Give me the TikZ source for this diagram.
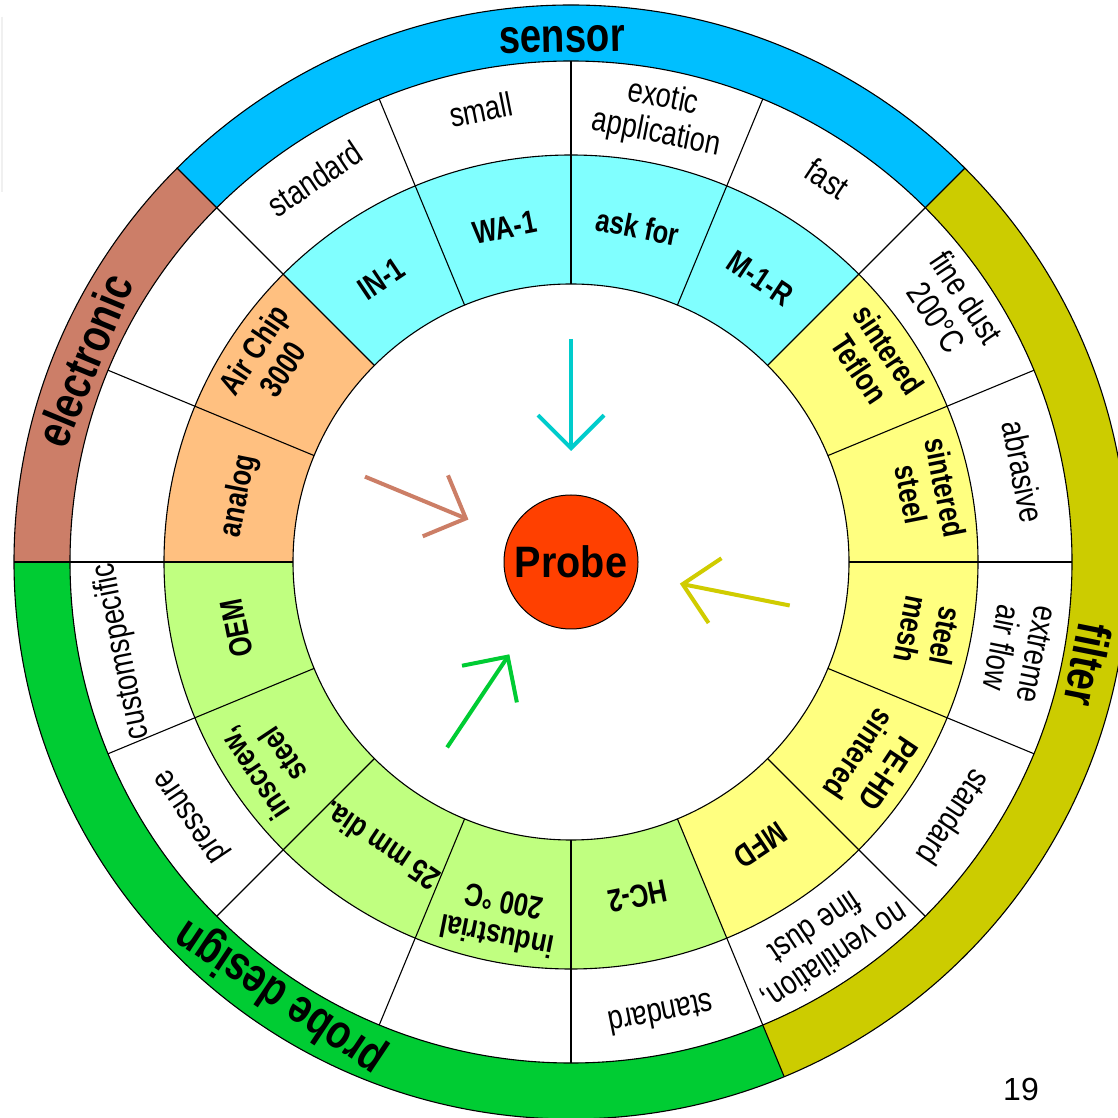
\documentclass[tikz,border=0pt]{standalone}
\usepackage{fontspec}
\usepackage{graphicx}
\setmainfont{Liberation Sans}
\usetikzlibrary{arrows.meta}
\definecolor{sensorc}{RGB}{0,191,255}
\definecolor{electc}{RGB}{204,126,104}
\definecolor{filterc}{RGB}{204,204,0}
\definecolor{probec}{RGB}{0,204,51}
\definecolor{cyanl}{RGB}{128,255,255}
\definecolor{yell}{RGB}{255,255,128}
\definecolor{greenl}{RGB}{192,255,128}
\definecolor{orangel}{RGB}{255,192,128}
\definecolor{corec}{RGB}{255,64,0}
\definecolor{arrcyan}{RGB}{0,204,204}
\definecolor{arrsalmon}{RGB}{204,126,102}
\definecolor{arrolive}{RGB}{208,204,0}
\newcommand{\sqone}[1]{\scalebox{0.8}[1]{#1}}
\newcommand{\sqtwo}[1]{\scalebox{0.8}[1]{\begin{tabular}{@{}c@{}}#1\end{tabular}}}
\begin{document}
\begin{tikzpicture}[x=1pt,y=1pt,
  ringline/.style={draw=black,line width=1.1pt},
  bandlabel/.style={font=\bfseries\fontsize{48}{50}\selectfont, inner sep=0pt, anchor=base},
  inlabel/.style={font=\bfseries\fontsize{32}{35}\selectfont, inner sep=0pt},
  midlabel/.style={font=\fontsize{34}{36}\selectfont, inner sep=0pt},
  ptr/.style={line width=4pt, -{Straight Barb[length=33pt,width=66pt]}},
]
\useasboundingbox (0,0) rectangle (1118,1117);
\fill[white] (0,0) rectangle (1118,1117);
\clip (0,0) rectangle (1118,1117);
\draw[gray!12, line width=1.5pt] (2,1100) -- (2,925);
\node[font=\fontsize{32}{34}\selectfont, inner sep=0pt] (pagenum) at (1021,28) {19};
\begin{scope}[shift={(571,555)}]
% outer bands
\foreach \a/\b/\c in {45/135/sensorc,135/180/electc,180/292.5/probec,-67.5/45/filterc}{
  \fill[\c] (\a:501) arc[start angle=\a,end angle=\b,radius=501] -- (\b:557)
     arc[start angle=\b,end angle=\a,radius=557] -- cycle;
}
% inner sectors
\foreach \i/\c in {0/yell,1/yell,2/cyanl,3/cyanl,4/cyanl,5/cyanl,6/orangel,7/orangel,
   8/greenl,9/greenl,10/greenl,11/greenl,12/greenl,13/yell,14/yell,15/yell}{
  \pgfmathsetmacro\a{22.5*\i}
  \pgfmathsetmacro\b{22.5*\i+22.5}
  \fill[\c] (\a:278) arc[start angle=\a,end angle=\b,radius=278] -- (\b:407)
     arc[start angle=\b,end angle=\a,radius=407] -- cycle;
}
% radial lines
\foreach \i in {0,...,15}{
  \pgfmathsetmacro\a{22.5*\i}
  \draw[ringline] (\a:278) -- (\a:501);
}
\foreach \a in {45,135,180,-67.5}{
  \draw[ringline] (\a:501) -- (\a:557);
}
\foreach \r in {278,407,501,557}{
  \draw[ringline] (0,0) circle[radius=\r];
}
% band labels
\foreach \a/\t/\n in {91/sensor/bs,157.5/electronic/be,-123.75/probe design/bp,-11.25/filter/bf}{
  \node[bandlabel, rotate=\a-90] (\n) at (\a:510) {\sqone{\t}};
}
% inner ring labels, single line
\foreach \i/\t in {2/M-1-R,3/ask for,4/WA-1,5/IN-1,7/analog,8/OEM,10/25 mm dia.,12/HC-2,13/MFD}{
  \pgfmathsetmacro\a{22.5*\i+11.25}
  \node[inlabel, anchor=base, rotate=\a-90] (in\i) at (\a:330) {\sqone{\t}};
}
% inner ring labels, two lines
\foreach \i/\t in {0/{sintered\\steel},1/{sintered\\Teflon},6/{Air Chip\\3000},
   9/{inscrew,\\steel},11/{industrial\\200 °C},14/{PE-HD\\sintered},15/{steel\\mesh}}{
  \pgfmathsetmacro\a{22.5*\i+11.25}
  \node[inlabel, rotate=\a-90] (in\i) at (\a:360) {\sqtwo{\t}};
}
% middle ring labels, single line
\foreach \i/\t in {0/abrasive,2/fast,4/small,5/standard,8/customspecific,9/pressure,12/standard,14/standard}{
  \pgfmathsetmacro\a{22.5*\i+11.25}
  \node[midlabel, anchor=base, rotate=\a-90] (mid\i) at (\a:449) {\sqone{\t}};
}
% middle ring labels, two lines
\foreach \i/\t in {1/{fine dust\\200°C},3/{exotic\\application},13/{no ventilation,\\fine dust},15/{extreme\\air flow}}{
  \pgfmathsetmacro\a{22.5*\i+11.25}
  \node[midlabel, rotate=\a-90] (mid\i) at (\a:453) {\sqtwo{\t}};
}
% arrows
\coordinate (cyS) at (90:223);      \coordinate (cyE) at (90:111);
\coordinate (saS) at (157.5:223);   \coordinate (saE) at (157.5:111);
\coordinate (olS) at (-11.25:223);  \coordinate (olE) at (-11.25:111);
\coordinate (grS) at (-123.75:223); \coordinate (grE) at (-123.75:111);
\draw[ptr, arrcyan] (cyS) -- (cyE);
\draw[ptr, arrsalmon] (saS) -- (saE);
\draw[ptr, arrolive] (olS) -- (olE);
\draw[ptr, probec] (grS) -- (grE);
% centre
\node[circle, draw=black, line width=1pt, fill=corec, minimum size=134pt, inner sep=0pt,
      font=\bfseries\fontsize{44}{46}\selectfont] (probe) at (0,0) {\scalebox{0.9}[1]{Probe}};
\end{scope}
\end{tikzpicture}
\end{document}
